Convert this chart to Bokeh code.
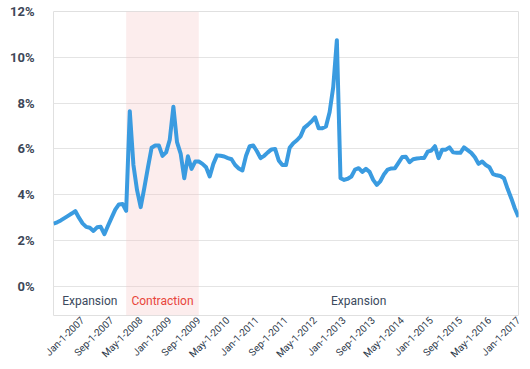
import math
import pandas as pd
from bokeh.plotting import figure
from bokeh.models import Range1d, FixedTicker, BoxAnnotation, ColumnDataSource
from bokeh.core.properties import value
from bokeh.embed import file_html
from bokeh.resources import INLINE

# ---- data ----
months = [f"{d:%b}-1-{d.year}" for d in pd.date_range("2006-05-01", "2017-01-01", freq="MS")]
rate = [
    2.74, 2.80, 2.88, 2.98, 3.08, 3.18, 3.29, 3.00, 2.75, 2.60,
    2.56, 2.42, 2.58, 2.60, 2.28, 2.65, 3.00, 3.35, 3.58, 3.60,
    3.30, 7.65, 5.30, 4.20, 3.46, 4.30, 5.20, 6.05, 6.15, 6.15,
    5.70, 5.85, 6.40, 7.84, 6.30, 5.80, 4.72, 5.68, 5.13, 5.45,
    5.45, 5.35, 5.20, 4.80, 5.35, 5.72, 5.70, 5.67, 5.60, 5.55,
    5.30, 5.15, 5.06, 5.70, 6.12, 6.15, 5.90, 5.60, 5.70, 5.85,
    5.98, 6.00, 5.50, 5.30, 5.30, 6.05, 6.25, 6.38, 6.55, 6.92,
    7.05, 7.20, 7.38, 6.90, 6.90, 6.98, 7.60, 8.70, 10.75, 4.72,
    4.65, 4.70, 4.80, 5.10, 5.16, 5.00, 5.13, 5.00, 4.65, 4.43,
    4.60, 4.90, 5.10, 5.15, 5.16, 5.40, 5.65, 5.66, 5.42, 5.55,
    5.58, 5.60, 5.60, 5.88, 5.93, 6.12, 5.60, 5.97, 5.97, 6.07,
    5.85, 5.83, 5.83, 6.07, 5.95, 5.83, 5.64, 5.35, 5.45, 5.30,
    5.20, 4.90, 4.85, 4.82, 4.72, 4.26, 3.85, 3.40, 3.03,
]
x_tick_labels = ["Jan-1-2007", "Sep-1-2007", "May-1-2008", "Jan-1-2009", "Sep-1-2009",
                 "May-1-2010", "Jan-1-2011", "Sep-1-2011", "May-1-2012", "Jan-1-2013",
                 "Sep-1-2013", "May-1-2014", "Jan-1-2015", "Sep-1-2015", "May-1-2016",
                 "Jan-1-2017"]
y_ticks = [0, 2, 4, 6, 8, 10, 12]
phase_names = ["Expansion", "Contraction", "Expansion"]
phase_start = ["May-1-2006", "Jan-1-2008", "Sep-1-2009"]
phase_end = ["Jan-1-2008", "Sep-1-2009", "Jan-1-2017"]

# ---- derived ----
xs = list(range(len(months)))
tick_pos = [months.index(t) for t in x_tick_labels]
y_min = -1.27
band_mid = y_min / 2.0
ps = [months.index(s) for s in phase_start]
pe = [months.index(e) for e in phase_end]
phase_colors = ["#3b4a5e" if n == "Expansion" else "#e8453c" for n in phase_names]

FONT = "Roboto"

p = figure(width=522, height=366, output_backend="svg", toolbar_location=None,
           x_range=Range1d(0, len(months) - 1), y_range=Range1d(y_min, max(y_ticks)),
           min_border_left=53, min_border_top=11, min_border_right=4, min_border_bottom=49)
p.background_fill_color = "white"
p.border_fill_color = "white"
p.outline_line_color = "#e0e0e0"

# shaded contraction
for n, a, b in zip(phase_names, ps, pe):
    if n == "Contraction":
        p.add_layout(BoxAnnotation(left=a, right=b, fill_color="#f5c6c6", fill_alpha=0.32,
                                   line_color=None, level="underlay"))

p.ygrid.grid_line_color = "#e4e4e4"
p.xgrid.visible = False

ya = p.yaxis[0]
ya.ticker = FixedTicker(ticks=y_ticks)
ya.major_label_overrides = {v: f"{v}%" for v in y_ticks}
ya.axis_line_color = None
ya.major_tick_line_color = None
ya.minor_tick_line_color = None
ya.major_tick_out = 0
ya.major_tick_in = 0
ya.minor_tick_out = 0
ya.minor_tick_in = 0
ya.major_label_standoff = 19
ya.major_label_text_font = FONT
ya.major_label_text_font_size = "13px"
ya.major_label_text_font_style = "bold"
ya.major_label_text_color = "#3d4758"
ya.major_label_text_baseline = "alphabetic"

xa = p.xaxis[0]
xa.ticker = FixedTicker(ticks=tick_pos)
xa.major_label_overrides = {pos: lab for pos, lab in zip(tick_pos, x_tick_labels)}
xa.major_label_orientation = math.pi / 4
xa.axis_line_color = None
xa.major_tick_line_color = None
xa.minor_tick_line_color = None
xa.major_tick_out = 0
xa.major_tick_in = 0
xa.minor_tick_out = 0
xa.minor_tick_in = 0
xa.major_label_standoff = 3
xa.major_label_text_font = FONT
xa.major_label_text_font_size = "10px"
xa.major_label_text_color = "#2f3b4c"

p.line(xs, rate, line_width=4, line_color="#3a9be0", line_join="round")

# band labels
src = ColumnDataSource(dict(x=[(a + b) / 2 for a, b in zip(ps, pe)],
                            y=[band_mid] * len(phase_names),
                            text=phase_names, color=phase_colors))
p.text(x="x", y="y", text="text", text_color="color", source=src,
       text_align="center", text_baseline="middle",
       text_font=value(FONT), text_font_size="12px")

open("out.html", "w").write(file_html(p, INLINE))
